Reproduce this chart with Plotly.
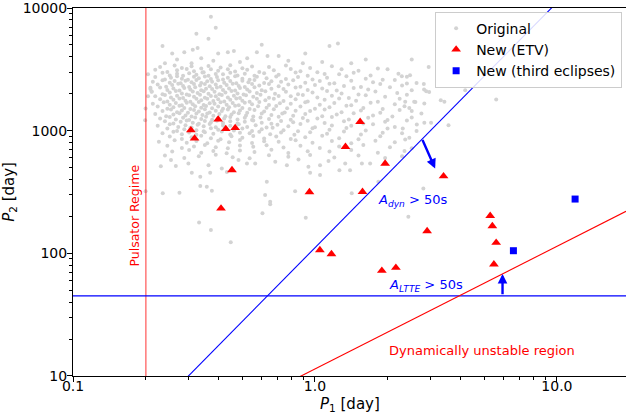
import numpy as np
import plotly.graph_objects as go

# ---------------- data ----------------
# New (ETV) systems: P1 [day], P2 [day]
etv_p1 = [0.307, 0.318, 0.398, 0.428, 0.468, 0.454, 0.409, 1.537, 1.337, 1.950, 0.949,
          1.572, 3.40, 2.908, 1.048, 1.170, 1.890, 2.160, 5.30, 5.41, 5.61, 5.49]
etv_p2 = [1009, 864, 1234, 1034, 1054, 477, 232, 1180, 738, 540, 316,
          317, 426, 152, 106.4, 98.7, 72.2, 76.3, 202, 167, 122, 81.4]

# New (third eclipses)
ecl_p1 = [11.89, 6.61]
ecl_p2 = [277, 105]

# Original sample as log10(P1 / day), log10(P2 / day)
orig_log10_p1 = [
    -0.43, -0.41, -0.49, -0.44, -0.63, -0.59, -0.54, -0.505, -0.485, -0.47,
    -0.51, -0.40, -0.36, -0.335, -0.28, -0.24, -0.196, -0.22, -0.15, -0.04,
    -0.05, 0.06, 0.095, -0.57, -0.42, -0.11, 0.03, -0.31, -0.62, 0.15,
    0.21, 0.40,
    -0.64, -0.58, -0.55, -0.51, -0.47, -0.44, -0.39, -0.35, -0.30, -0.26, -0.19, -0.12, -0.02, 0.07, 0.26,
    -0.66, -0.61, -0.57, -0.53, -0.50, -0.46, -0.43, -0.40, -0.36, -0.33, -0.28, -0.23, -0.17, -0.10, -0.06, 0.01, 0.11, 0.18, 0.30,
    -0.69, -0.63, -0.60, -0.57, -0.545, -0.52, -0.49, -0.465, -0.44, -0.41, -0.38, -0.35, -0.32, -0.29, -0.25, -0.21, -0.15, -0.08, -0.03, 0.04, 0.10, 0.16, 0.23, 0.345,
    -0.66, -0.62, -0.595, -0.57, -0.55, -0.525, -0.50, -0.48, -0.455, -0.43, -0.405, -0.38, -0.36, -0.33, -0.30, -0.27, -0.24, -0.20, -0.16, -0.12, -0.07, -0.01, 0.05, 0.13, 0.21, 0.28, 0.38,
    -0.67, -0.63, -0.60, -0.58, -0.555, -0.535, -0.51, -0.49, -0.47, -0.445, -0.425, -0.40, -0.375, -0.35, -0.325, -0.30, -0.275, -0.25, -0.21, -0.18, -0.14, -0.09, -0.04, 0.02, 0.08, 0.15, 0.24, 0.33, 0.42,
    -0.65, -0.615, -0.59, -0.565, -0.545, -0.52, -0.50, -0.475, -0.455, -0.435, -0.41, -0.39, -0.365, -0.34, -0.315, -0.29, -0.26, -0.23, -0.19, -0.15, -0.11, -0.06, 0.00, 0.06, 0.12, 0.19, 0.27, 0.36, 0.45,
    -0.68, -0.64, -0.61, -0.585, -0.56, -0.54, -0.515, -0.495, -0.47, -0.45, -0.425, -0.405, -0.38, -0.355, -0.33, -0.31, -0.28, -0.25, -0.22, -0.18, -0.13, -0.08, -0.03, 0.03, 0.09, 0.16, 0.22, 0.31, 0.40,
    -0.675, -0.63, -0.60, -0.575, -0.55, -0.53, -0.505, -0.485, -0.46, -0.44, -0.415, -0.395, -0.37, -0.345, -0.32, -0.295, -0.27, -0.24, -0.205, -0.165, -0.12, -0.07, -0.01, 0.05, 0.11, 0.18, 0.25, 0.34, 0.46,
    -0.66, -0.62, -0.595, -0.57, -0.545, -0.52, -0.50, -0.475, -0.455, -0.43, -0.41, -0.385, -0.36, -0.335, -0.31, -0.285, -0.255, -0.225, -0.19, -0.15, -0.10, -0.05, 0.01, 0.07, 0.14, 0.21, 0.29, 0.38,
    -0.64, -0.61, -0.585, -0.56, -0.535, -0.515, -0.49, -0.47, -0.445, -0.42, -0.40, -0.375, -0.35, -0.325, -0.30, -0.27, -0.24, -0.205, -0.17, -0.13, -0.08, -0.03, 0.04, 0.10, 0.17, 0.26, 0.35, 0.52,
    -0.67, -0.625, -0.60, -0.575, -0.55, -0.53, -0.505, -0.48, -0.46, -0.435, -0.415, -0.39, -0.365, -0.34, -0.315, -0.29, -0.26, -0.23, -0.19, -0.145, -0.10, -0.04, 0.02, 0.08, 0.15, 0.23, 0.33, 0.415,
    -0.65, -0.61, -0.585, -0.56, -0.54, -0.515, -0.495, -0.47, -0.45, -0.425, -0.40, -0.38, -0.355, -0.33, -0.30, -0.27, -0.235, -0.20, -0.16, -0.115, -0.06, 0.00, 0.06, 0.13, 0.20, 0.28, 0.37,
    -0.63, -0.595, -0.57, -0.55, -0.525, -0.50, -0.48, -0.455, -0.435, -0.41, -0.385, -0.36, -0.335, -0.31, -0.28, -0.25, -0.21, -0.17, -0.125, -0.08, -0.02, 0.04, 0.11, 0.19, 0.27, 0.35,
    -0.66, -0.615, -0.585, -0.56, -0.535, -0.51, -0.49, -0.465, -0.445, -0.42, -0.395, -0.37, -0.345, -0.315, -0.285, -0.255, -0.22, -0.18, -0.135, -0.09, -0.04, 0.03, 0.09, 0.16, 0.24, 0.32, 0.44,
    -0.64, -0.60, -0.575, -0.545, -0.52, -0.495, -0.47, -0.45, -0.425, -0.40, -0.375, -0.35, -0.32, -0.29, -0.26, -0.225, -0.19, -0.15, -0.10, -0.05, 0.01, 0.07, 0.14, 0.22, 0.30, 0.40,
    -0.62, -0.585, -0.555, -0.53, -0.505, -0.48, -0.455, -0.43, -0.405, -0.38, -0.35, -0.32, -0.29, -0.255, -0.22, -0.18, -0.14, -0.09, -0.03, 0.04, 0.12, 0.20, 0.29, 0.38, 0.48,
    -0.65, -0.60, -0.565, -0.535, -0.51, -0.485, -0.46, -0.435, -0.41, -0.38, -0.35, -0.315, -0.28, -0.245, -0.20, -0.155, -0.11, -0.06, 0.00, 0.07, 0.15, 0.24, 0.33,
    -0.61, -0.57, -0.54, -0.515, -0.49, -0.46, -0.43, -0.40, -0.37, -0.335, -0.30, -0.26, -0.22, -0.175, -0.13, -0.07, -0.01, 0.06, 0.13, 0.21, 0.30, 0.42,
    -0.63, -0.585, -0.55, -0.52, -0.49, -0.455, -0.42, -0.385, -0.35, -0.31, -0.27, -0.23, -0.185, -0.14, -0.085, -0.02, 0.05, 0.12, 0.19, 0.28, 0.36,
    -0.60, -0.55, -0.51, -0.47, -0.43, -0.39, -0.345, -0.30, -0.255, -0.21, -0.16, -0.10, -0.04, 0.03, 0.10, 0.18, 0.27, 0.39,
    -0.645, -0.58, -0.53, -0.49, -0.445, -0.40, -0.355, -0.31, -0.26, -0.21, -0.15, -0.08, -0.01, 0.07, 0.15, 0.25, 0.33,
    -0.61, -0.55, -0.50, -0.455, -0.41, -0.36, -0.31, -0.255, -0.20, -0.13, -0.06, 0.02, 0.10, 0.20, 0.31, 0.40,
    -0.59, -0.52, -0.47, -0.42, -0.365, -0.31, -0.25, -0.18, -0.11, -0.03, 0.06, 0.15, 0.26, 0.37,
    -0.62, -0.54, -0.48, -0.41, -0.34, -0.27, -0.19, -0.11, -0.02, 0.08, 0.18, 0.29, 0.36,
    -0.637, -0.595, -0.575, -0.523, -0.509, -0.474, -0.440, -0.433, -0.385, -0.364,
    -0.316, -0.281, -0.247, -0.199, -0.474, -0.447, -0.426, -0.629, -0.560, -0.700,
    -0.206, -0.185, -0.217, -0.479, -0.430, -0.348, -0.702, -0.164, -0.116, -0.068,
    -0.027, 0.021, 0.056, -0.020, 0.021, 0.101, 0.145, 0.125, 0.194, 0.228,
    0.262, -0.082, 0.152, -0.185, -0.038, 0.386, 0.448,
    0.359, 0.393, 0.380, 0.451, 0.472, 0.373, 0.410, 0.390, 0.400, 0.452,
    0.535, 0.621, 0.749, 0.421, 0.452, 0.552, 0.363, 0.373, 0.47, -0.68,
    -0.675, -0.69, -0.70,
]
orig_log10_p2 = [
    3.93, 3.84, 3.79, 3.75, 3.69, 3.63, 3.64, 3.66, 3.675, 3.59,
    3.55, 3.63, 3.64, 3.65, 3.59, 3.64, 3.61, 3.70, 3.61, 3.63,
    3.55, 3.69, 3.71, 3.58, 3.57, 3.57, 3.56, 3.56, 3.55, 3.55,
    3.58, 3.58,
    3.520, 3.532, 3.511, 3.525, 3.507, 3.528, 3.516, 3.534, 3.509, 3.523, 3.520, 3.532, 3.511, 3.525, 3.507,
    3.497, 3.478, 3.492, 3.503, 3.484, 3.476, 3.500, 3.488, 3.501, 3.482, 3.497, 3.478, 3.492, 3.503, 3.484, 3.476, 3.500, 3.488, 3.501,
    3.460, 3.472, 3.451, 3.465, 3.447, 3.468, 3.456, 3.474, 3.449, 3.463, 3.460, 3.472, 3.451, 3.465, 3.447, 3.468, 3.456, 3.474, 3.449, 3.463, 3.460, 3.472, 3.451, 3.465,
    3.437, 3.418, 3.432, 3.443, 3.424, 3.416, 3.440, 3.428, 3.441, 3.422, 3.437, 3.418, 3.432, 3.443, 3.424, 3.416, 3.440, 3.428, 3.441, 3.422, 3.437, 3.418, 3.432, 3.443, 3.424, 3.416, 3.440,
    3.400, 3.412, 3.391, 3.405, 3.387, 3.408, 3.396, 3.414, 3.389, 3.403, 3.400, 3.412, 3.391, 3.405, 3.387, 3.408, 3.396, 3.414, 3.389, 3.403, 3.400, 3.412, 3.391, 3.405, 3.387, 3.408, 3.396, 3.414, 3.389,
    3.377, 3.358, 3.372, 3.383, 3.364, 3.356, 3.380, 3.368, 3.381, 3.362, 3.377, 3.358, 3.372, 3.383, 3.364, 3.356, 3.380, 3.368, 3.381, 3.362, 3.377, 3.358, 3.372, 3.383, 3.364, 3.356, 3.380, 3.368, 3.381,
    3.340, 3.352, 3.331, 3.345, 3.327, 3.348, 3.336, 3.354, 3.329, 3.343, 3.340, 3.352, 3.331, 3.345, 3.327, 3.348, 3.336, 3.354, 3.329, 3.343, 3.340, 3.352, 3.331, 3.345, 3.327, 3.348, 3.336, 3.354, 3.329,
    3.317, 3.298, 3.312, 3.323, 3.304, 3.296, 3.320, 3.308, 3.321, 3.302, 3.317, 3.298, 3.312, 3.323, 3.304, 3.296, 3.320, 3.308, 3.321, 3.302, 3.317, 3.298, 3.312, 3.323, 3.304, 3.296, 3.320, 3.308, 3.321,
    3.280, 3.292, 3.271, 3.285, 3.267, 3.288, 3.276, 3.294, 3.269, 3.283, 3.280, 3.292, 3.271, 3.285, 3.267, 3.288, 3.276, 3.294, 3.269, 3.283, 3.280, 3.292, 3.271, 3.285, 3.267, 3.288, 3.276, 3.294,
    3.257, 3.238, 3.252, 3.263, 3.244, 3.236, 3.260, 3.248, 3.261, 3.242, 3.257, 3.238, 3.252, 3.263, 3.244, 3.236, 3.260, 3.248, 3.261, 3.242, 3.257, 3.238, 3.252, 3.263, 3.244, 3.236, 3.260, 3.248,
    3.220, 3.232, 3.211, 3.225, 3.207, 3.228, 3.216, 3.234, 3.209, 3.223, 3.220, 3.232, 3.211, 3.225, 3.207, 3.228, 3.216, 3.234, 3.209, 3.223, 3.220, 3.232, 3.211, 3.225, 3.207, 3.228, 3.216, 3.234,
    3.197, 3.178, 3.192, 3.203, 3.184, 3.176, 3.200, 3.188, 3.201, 3.182, 3.197, 3.178, 3.192, 3.203, 3.184, 3.176, 3.200, 3.188, 3.201, 3.182, 3.197, 3.178, 3.192, 3.203, 3.184, 3.176, 3.200,
    3.160, 3.172, 3.151, 3.165, 3.147, 3.168, 3.156, 3.174, 3.149, 3.163, 3.160, 3.172, 3.151, 3.165, 3.147, 3.168, 3.156, 3.174, 3.149, 3.163, 3.160, 3.172, 3.151, 3.165, 3.147, 3.168,
    3.137, 3.118, 3.132, 3.143, 3.124, 3.116, 3.140, 3.128, 3.141, 3.122, 3.137, 3.118, 3.132, 3.143, 3.124, 3.116, 3.140, 3.128, 3.141, 3.122, 3.137, 3.118, 3.132, 3.143, 3.124, 3.116, 3.140,
    3.100, 3.112, 3.091, 3.105, 3.087, 3.108, 3.096, 3.114, 3.089, 3.103, 3.100, 3.112, 3.091, 3.105, 3.087, 3.108, 3.096, 3.114, 3.089, 3.103, 3.100, 3.112, 3.091, 3.105, 3.087, 3.108,
    3.077, 3.058, 3.072, 3.083, 3.064, 3.056, 3.080, 3.068, 3.081, 3.062, 3.077, 3.058, 3.072, 3.083, 3.064, 3.056, 3.080, 3.068, 3.081, 3.062, 3.077, 3.058, 3.072, 3.083, 3.064,
    3.040, 3.052, 3.031, 3.045, 3.027, 3.048, 3.036, 3.054, 3.029, 3.043, 3.040, 3.052, 3.031, 3.045, 3.027, 3.048, 3.036, 3.054, 3.029, 3.043, 3.040, 3.052, 3.031,
    3.017, 2.998, 3.012, 3.023, 3.004, 2.996, 3.020, 3.008, 3.021, 3.002, 3.017, 2.998, 3.012, 3.023, 3.004, 2.996, 3.020, 3.008, 3.021, 3.002, 3.017, 2.998,
    2.980, 2.992, 2.971, 2.985, 2.967, 2.988, 2.976, 2.994, 2.969, 2.983, 2.980, 2.992, 2.971, 2.985, 2.967, 2.988, 2.976, 2.994, 2.969, 2.983, 2.980,
    2.952, 2.933, 2.947, 2.958, 2.939, 2.931, 2.955, 2.943, 2.956, 2.937, 2.952, 2.933, 2.947, 2.958, 2.939, 2.931, 2.955, 2.943,
    2.910, 2.922, 2.901, 2.915, 2.897, 2.918, 2.906, 2.924, 2.899, 2.913, 2.910, 2.922, 2.901, 2.915, 2.897, 2.918, 2.906,
    2.877, 2.858, 2.872, 2.883, 2.864, 2.856, 2.880, 2.868, 2.881, 2.862, 2.877, 2.858, 2.872, 2.883, 2.864, 2.856,
    2.830, 2.842, 2.821, 2.835, 2.817, 2.838, 2.826, 2.844, 2.819, 2.833, 2.830, 2.842, 2.821, 2.835,
    2.797, 2.778, 2.792, 2.803, 2.784, 2.776, 2.800, 2.788, 2.801, 2.782, 2.797, 2.778, 2.792,
    2.711, 2.760, 2.713, 2.733, 2.656, 2.624, 2.719, 2.656, 2.692, 2.664,
    2.760, 2.733, 2.733, 2.583, 2.548, 2.542, 2.510, 2.489, 2.494, 2.507,
    2.475, 2.420, 2.326, 2.252, 2.190, 2.090, 3.085, 2.746, 2.719, 2.765,
    2.705, 2.719, 2.752, 2.656, 2.638, 2.678, 2.678, 2.733, 2.733, 2.733,
    2.583, 2.507, 2.489, 2.401, 2.290, 2.298, 2.529,
    3.444, 3.452, 3.384, 3.336, 3.316, 3.235, 3.235, 3.186, 3.161, 3.222,
    3.235, 3.330, 3.254, 3.050, 3.064, 3.045, 3.018, 2.928, 3.52, 3.35,
    3.32, 3.28, 3.18,
]

# Boundaries
pulsator_p1 = 0.2          # day
altte_p2 = 45.0            # day, A_LTTE = 50 s
adyn_coeff = 111.0         # A_dyn = 50 s:  P2 = coeff * P1**2
adyn_exp = 2.0
unstable_coeff = 11.4      # stability limit: P2 = coeff * P1
unstable_exp = 1.0

# arrows (tail -> head), in days
arrow_dyn = ((2.766, 863.0), (3.139, 492.0))
arrow_ltte_p1 = 5.96

x_lim = [0.1, 19.3]
y_lim = [10.0, 10000.0]

# ---------------- figure ----------------
orig_p1 = 10 ** np.array(orig_log10_p1)
orig_p2 = 10 ** np.array(orig_log10_p2)
xl = np.array(x_lim)

fig = go.Figure()

fig.add_trace(go.Scatter(
    x=orig_p1, y=orig_p2, mode="markers", name="Original",
    marker=dict(color="#d3d3d3", size=4.0, line=dict(width=0)),
))

line_kw = dict(mode="lines", showlegend=False, hoverinfo="skip")
fig.add_trace(go.Scatter(x=[pulsator_p1, pulsator_p1], y=y_lim,
                         line=dict(color="rgba(255,0,0,0.5)", width=1.6), **line_kw))
fig.add_trace(go.Scatter(x=xl, y=[altte_p2, altte_p2],
                         line=dict(color="blue", width=1.1), **line_kw))
fig.add_trace(go.Scatter(x=xl, y=adyn_coeff * xl ** adyn_exp,
                         line=dict(color="blue", width=1.1), **line_kw))
fig.add_trace(go.Scatter(x=xl, y=unstable_coeff * xl ** unstable_exp,
                         line=dict(color="red", width=1.1), **line_kw))

fig.add_trace(go.Scatter(
    x=etv_p1, y=etv_p2, mode="markers", name="New (ETV)",
    marker=dict(color="red", symbol="triangle-up", size=8.5, line=dict(width=0)),
))
fig.add_trace(go.Scatter(
    x=ecl_p1, y=ecl_p2, mode="markers", name="New (third eclipses)",
    marker=dict(color="blue", symbol="square", size=7, line=dict(width=0)),
))

lg = np.log10
annotations = [
    dict(x=lg(arrow_dyn[1][0]), y=lg(arrow_dyn[1][1]),
         ax=lg(arrow_dyn[0][0]), ay=lg(arrow_dyn[0][1]),
         xref="x", yref="y", axref="x", ayref="y", text="", showarrow=True,
         arrowhead=2, arrowsize=0.8, arrowwidth=2.4, arrowcolor="blue", standoff=0),
    dict(x=lg(arrow_ltte_p1), y=lg(unstable_coeff * arrow_ltte_p1 ** unstable_exp),
         ax=lg(arrow_ltte_p1), ay=lg(altte_p2),
         xref="x", yref="y", axref="x", ayref="y", text="", showarrow=True,
         arrowhead=2, arrowsize=0.8, arrowwidth=2.4, arrowcolor="blue", standoff=0),
    dict(x=lg(1.79), y=lg(272), xref="x", yref="y", showarrow=False,
         text="<i>A</i><sub><i>dyn</i></sub> &gt; 50s", xanchor="left", yanchor="middle",
         font=dict(color="blue", size=13)),
    dict(x=lg(1.98), y=lg(54.2), xref="x", yref="y", showarrow=False,
         text="<i>A</i><sub><i>LTTE</i></sub> &gt; 50s", xanchor="left", yanchor="middle",
         font=dict(color="blue", size=13)),
    dict(x=lg(1.99), y=lg(16.1), xref="x", yref="y", showarrow=False,
         text="Dynamically unstable region", xanchor="left", yanchor="middle",
         font=dict(color="red", size=13)),
    dict(x=lg(0.1795), y=lg(205), xref="x", yref="y", showarrow=False,
         text="Pulsator Regime", textangle=-90, xanchor="center", yanchor="middle",
         font=dict(color="red", size=12.5)),
    # axis titles
    dict(x=0.5, y=-40 / 368, xref="paper", yref="paper", showarrow=False,
         text="<i>P</i><sub>1</sub> [day]", xanchor="center", yanchor="bottom",
         font=dict(size=15, color="black")),
    dict(x=-0.116, y=0.5, xref="paper", yref="paper", showarrow=False,
         text="<i>P</i><sub>2</sub> [day]", textangle=-90, xanchor="center", yanchor="middle",
         font=dict(size=15, color="black")),
]

axis_common = dict(
    type="log", showgrid=False, zeroline=False, showline=True,
    linecolor="black", linewidth=1, ticks="outside", ticklen=5, tickwidth=1,
    tickcolor="black", tickfont=dict(size=14, color="black"),
    ticklabeloverflow="allow",
)

fig.update_layout(
    width=626, height=416,
    margin=dict(l=73, r=0, t=8, b=40),
    paper_bgcolor="white", plot_bgcolor="white",
    font=dict(family="DejaVu Sans", size=14, color="black"),
    annotations=annotations,
    legend=dict(x=0.993, y=0.99, xanchor="right", yanchor="top",
                bgcolor="rgba(255,255,255,0.85)", bordercolor="#cccccc", borderwidth=1,
                font=dict(size=14), tracegroupgap=0),
    xaxis=dict(
        **axis_common, mirror=True,
        range=[lg(x_lim[0]), lg(x_lim[1])],
        tickvals=[0.1, 1, 10], ticktext=["0.1", "1.0", "10.0"],
        ticklabelstandoff=-8,
        minor=dict(ticks="outside", ticklen=3, tickcolor="black", showgrid=False,
                   tickvals=[0.2, 0.3, 0.4, 0.5, 0.6, 0.7, 0.8, 0.9,
                             2, 3, 4, 5, 6, 7, 8, 9]),
    ),
    yaxis=dict(
        **axis_common,
        range=[lg(y_lim[0]) - 0.0005, lg(y_lim[1]) + 0.0005],
        tickvals=[10, 100, 1000, 10000], ticktext=["10", "100", "1000", "10000"],
        ticklabelstandoff=-3,
        minor=dict(ticks="outside", ticklen=3, tickcolor="black", showgrid=False,
                   tickvals=[20, 30, 40, 50, 60, 70, 80, 90,
                             200, 300, 400, 500, 600, 700, 800, 900,
                             2000, 3000, 4000, 5000, 6000, 7000, 8000, 9000]),
    ),
)

fig.write_html("out.html")
